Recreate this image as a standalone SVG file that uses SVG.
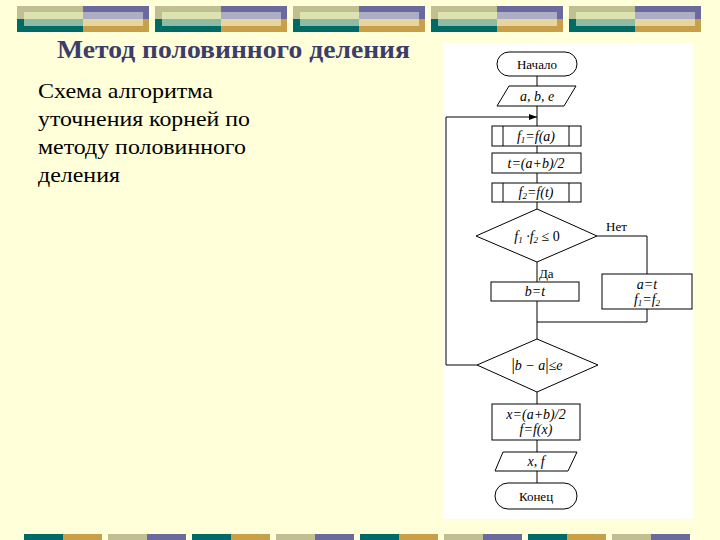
<svg xmlns="http://www.w3.org/2000/svg" width="720" height="540" viewBox="0 0 720 540">
<defs>
<style>
.ln{fill:none;stroke:#000;stroke-width:1}
.bx{fill:#fff;stroke:#000;stroke-width:1}
.t{font-family:"Liberation Serif","Times New Roman",serif;font-size:13px;fill:#000;text-anchor:middle}
.m{font-family:"Liberation Serif","Times New Roman",serif;font-size:14px;font-style:italic;fill:#000;text-anchor:middle}
.lb{font-family:"Liberation Serif","Times New Roman",serif;font-size:13px;fill:#000}
.d{font-family:"Liberation Serif","Times New Roman",serif;font-size:22px;fill:#000}
</style>
<marker id="ah" markerWidth="8" markerHeight="6" refX="8" refY="3" orient="auto" markerUnits="userSpaceOnUse">
<path d="M0,0 L8,3 L0,6 z" fill="#000"/>
</marker>
<g id="deco">
<rect x="0" y="0" width="66" height="13" fill="#bfbf92"/>
<rect x="0" y="13" width="66" height="13" fill="#006a67"/>
<rect x="66" y="0" width="66" height="13" fill="#6a6a9e"/>
<rect x="66" y="13" width="66" height="13" fill="#c8a04a"/>
<rect x="7" y="6" width="59" height="7" fill="#dde2b3"/>
<rect x="7" y="13" width="59" height="7" fill="#8fbba3"/>
<rect x="66" y="6" width="60" height="7" fill="#adadc6"/>
<rect x="66" y="13" width="60" height="7" fill="#e6d59e"/>
</g>
<g id="b1">
<rect x="0" y="0" width="39" height="6" fill="#006a67"/>
<rect x="39" y="0" width="39" height="6" fill="#c8a04a"/>
</g>
<g id="b2">
<rect x="0" y="0" width="39" height="6" fill="#bfbf92"/>
<rect x="39" y="0" width="39" height="6" fill="#6a6a9e"/>
</g>
</defs>
<rect x="0" y="0" width="720" height="540" fill="#ffffd9"/>
<g id="top-decoration">
<use href="#deco" x="17" y="6"/>
<use href="#deco" x="155" y="6"/>
<use href="#deco" x="293" y="6"/>
<use href="#deco" x="431" y="6"/>
<use href="#deco" x="569" y="6"/>
</g>
<g id="bottom-decoration">
<use href="#b1" x="24" y="534"/>
<use href="#b2" x="108" y="534"/>
<use href="#b1" x="192" y="534"/>
<use href="#b2" x="276" y="534"/>
<use href="#b1" x="360" y="534"/>
<use href="#b2" x="444" y="534"/>
<use href="#b1" x="528" y="534"/>
<use href="#b2" x="612" y="534"/>
</g>
<g id="title">
<text x="57" y="58" font-family="'Liberation Serif','Times New Roman',serif" font-size="25" font-weight="bold" fill="#3d3d6b" textLength="353" lengthAdjust="spacingAndGlyphs">Метод половинного деления</text>
</g>
<g id="description">
<text class="d" x="38" y="98" textLength="175" lengthAdjust="spacingAndGlyphs">Схема алгоритма</text>
<text class="d" x="38" y="126" textLength="212" lengthAdjust="spacingAndGlyphs">уточнения корней по</text>
<text class="d" x="38" y="154" textLength="208" lengthAdjust="spacingAndGlyphs">методу половинного</text>
<text class="d" x="38" y="182" textLength="82" lengthAdjust="spacingAndGlyphs">деления</text>
</g>
<rect id="panel" x="443" y="43" width="250" height="476" fill="#fff"/>
<g id="connectors">
<path class="ln" d="M537,76 V86"/>
<path class="ln" d="M537,106 V126"/>
<path class="ln" d="M537,146 V153"/>
<path class="ln" d="M537,173 V183"/>
<path class="ln" d="M537,202 V209"/>
<path class="ln" d="M597,236 H647 V274"/>
<path class="ln" d="M537,262 V282"/>
<path class="ln" d="M647,309 V322 H537"/>
<path class="ln" d="M537,301 V339"/>
<path class="ln" d="M477,365 H446 V117 H537" marker-end="url(#ah)"/>
<path class="ln" d="M537,392 V404"/>
<path class="ln" d="M537,440 V452"/>
<path class="ln" d="M537,471 V483"/>
</g>
<g id="start">
<rect class="bx" x="497" y="52" width="80" height="24" rx="12" ry="12"/>
<text class="t" x="537" y="68.5">Начало</text>
</g>
<g id="input">
<polygon class="bx" points="509,86 576,86 564,106 497,106"/>
<text class="m" x="537" y="100.5">a, b, e</text>
</g>
<g id="f1">
<rect class="bx" x="492" y="126" width="89" height="20"/>
<path class="ln" d="M503,126 V146 M569,126 V146"/>
<text class="m" x="536" y="140.5">f<tspan font-size="9" dy="2">1</tspan><tspan dy="-2">=f(a)</tspan></text>
</g>
<g id="t-calc">
<rect class="bx" x="492" y="153" width="89" height="20"/>
<text class="m" x="536" y="167.5">t=(a+b)/2</text>
</g>
<g id="f2">
<rect class="bx" x="492" y="183" width="89" height="19"/>
<path class="ln" d="M503,183 V202 M569,183 V202"/>
<text class="m" x="536" y="197">f<tspan font-size="9" dy="2">2</tspan><tspan dy="-2">=f(t)</tspan></text>
</g>
<g id="cond1">
<polygon class="bx" points="537,209 597,236 537,262 476,236"/>
<text class="m" x="537" y="241">f<tspan font-size="9" dy="2">1</tspan><tspan dy="-2"> ·f</tspan><tspan font-size="9" dy="2">2</tspan><tspan dy="-2" font-style="normal"> ≤ 0</tspan></text>
<text class="lb" x="606" y="231">Нет</text>
<text class="lb" x="539" y="278">Да</text>
</g>
<g id="b-assign">
<rect class="bx" x="491" y="282" width="88" height="19"/>
<text class="m" x="535" y="296">b=t</text>
</g>
<g id="a-assign">
<rect class="bx" x="602" y="274" width="90" height="35"/>
<text class="m" x="647" y="289">a=t</text>
<text class="m" x="647" y="304">f<tspan font-size="9" dy="2">1</tspan><tspan dy="-2">=f</tspan><tspan font-size="9" dy="2">2</tspan></text>
</g>
<g id="cond2">
<polygon class="bx" points="537,339 598,365 537,392 477,365"/>
<text class="m" x="537" y="370"><tspan font-style="normal" font-size="17">|</tspan>b − a<tspan font-style="normal" font-size="17">|</tspan><tspan font-style="normal">≤</tspan>e</text>
</g>
<g id="result">
<rect class="bx" x="492" y="404" width="88" height="36"/>
<text class="m" x="536" y="419">x=(a+b)/2</text>
<text class="m" x="536" y="434">f=f(x)</text>
</g>
<g id="output">
<polygon class="bx" points="503,452 577,452 568,471 495,471"/>
<text class="m" x="536" y="466">x, f</text>
</g>
<g id="end">
<rect class="bx" x="495" y="483" width="82" height="26" rx="13" ry="13"/>
<text class="t" x="536" y="500.5">Конец</text>
</g>
</svg>
